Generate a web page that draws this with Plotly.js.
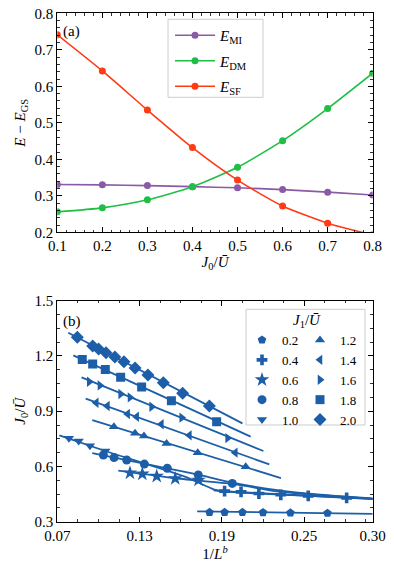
<!DOCTYPE html>
<html>
<head>
<meta charset="utf-8">
<script src="https://cdn.plot.ly/plotly-3.0.1.min.js"></script>
<style>
  body { margin: 0; background: #fff; }
  #plot { width: 394px; height: 573px; }
</style>
</head>
<body>
<div id="plot"></div>
<script>
// panel (a): energies vs J0/U
const xA = [0.1, 0.2, 0.3, 0.4, 0.5, 0.6, 0.7, 0.8];
const eMI = [0.331, 0.330, 0.328, 0.325, 0.322, 0.317, 0.310, 0.302];
const eDM = [0.256, 0.267, 0.289, 0.325, 0.378, 0.451, 0.539, 0.636];
const eSF = [0.741, 0.642, 0.535, 0.432, 0.343, 0.272, 0.225, 0.193];

// panel (b): critical J0/U vs 1/L^b, one set per J1/U
const j1Labels = ['0.2', '0.4', '0.6', '0.8', '1.0', '1.2', '1.4', '1.6', '1.8', '2.0'];
const j1Symbols = ['pentagon', 'cross', 'star', 'circle', 'triangle-down',
                   'triangle-up', 'triangle-left', 'triangle-right', 'square', 'diamond'];

const ptsX = [
  [0.181, 0.192, 0.205, 0.220, 0.240, 0.267],
  [0.192, 0.204, 0.217, 0.233, 0.253, 0.281],
  [0.123, 0.132, 0.1425, 0.156, 0.173],
  [0.1036, 0.1114, 0.1206, 0.1335, 0.1502, 0.1728, 0.1976],
  [0.0785, 0.0856, 0.0938, 0.105],
  [0.1113, 0.1267, 0.1332, 0.1497, 0.1724, 0.2074],
  [0.0984, 0.1065, 0.1213, 0.1279, 0.1459, 0.1663, 0.1998],
  [0.0933, 0.1011, 0.1162, 0.123, 0.1388, 0.1607, 0.1942],
  [0.0882, 0.0958, 0.105, 0.1162, 0.1315, 0.1532, 0.1862],
  [0.0846, 0.0958, 0.1001, 0.1055, 0.112, 0.1186, 0.1267, 0.1361, 0.1473, 0.1614, 0.1809]
];
const ptsY = [
  [0.351, 0.351, 0.351, 0.350, 0.348, 0.346],
  [0.466, 0.462, 0.453, 0.446, 0.440, 0.429],
  [0.565, 0.559, 0.547, 0.534, 0.526],
  [0.662, 0.648, 0.635, 0.613, 0.590, 0.554, 0.508],
  [0.753, 0.738, 0.713, 0.684],
  [0.816, 0.780, 0.765, 0.725, 0.675, 0.599],
  [0.946, 0.928, 0.885, 0.870, 0.829, 0.769, 0.675],
  [1.060, 1.040, 0.993, 0.975, 0.924, 0.865, 0.754],
  [1.181, 1.156, 1.127, 1.084, 1.031, 0.957, 0.843],
  [1.301, 1.254, 1.238, 1.218, 1.194, 1.169, 1.134, 1.096, 1.055, 0.997, 0.928]
];
// fitted curves
const fitX = [
  [0.172, 0.30],
  [0.184, 0.193, 0.233, 0.281, 0.30],
  [0.1145, 0.156, 0.1976, 0.232, 0.26, 0.30],
  [0.0955, 0.1502, 0.1728, 0.1976, 0.232, 0.26, 0.30],
  [0.0715, 0.105, 0.163, 0.184, 0.193, 0.232, 0.30],
  [0.0955, 0.2331],
  [0.0907, 0.2246],
  [0.0877, 0.2203],
  [0.0817, 0.211],
  [0.078, 0.205]
];
const fitY = [
  [0.356, 0.343],
  [0.470, 0.463, 0.447, 0.430, 0.424],
  [0.577, 0.536, 0.505, 0.463, 0.445, 0.424],
  [0.673, 0.590, 0.555, 0.512, 0.470, 0.448, 0.426],
  [0.769, 0.684, 0.545, 0.476, 0.466, 0.449, 0.424],
  [0.852, 0.537],
  [0.968, 0.611],
  [1.084, 0.684],
  [1.203, 0.762],
  [1.326, 0.834]
];

const purple = '#8a5aa6', green = '#1fbf45', red = '#ff3b14', blue = '#1c5fa8';
const FONT = 'Liberation Serif, Times New Roman, serif';

let data = [];
[[eMI, purple, 'MI'], [eDM, green, 'DM'], [eSF, red, 'SF']].forEach(function(s, i) {
  data.push({
    x: xA, y: s[0], xaxis: 'x', yaxis: 'y', type: 'scatter', mode: 'lines+markers',
    name: '<i>E</i><sub>' + s[2] + '</sub>',
    line: {color: s[1], width: 1.6, shape: 'spline', smoothing: 0.6},
    marker: {color: s[1], size: 7},
    legend: 'legend', legendgroup: 'a' + i
  });
});

for (let i = 0; i < j1Labels.length; i++) {
  data.push({
    x: fitX[i], y: fitY[i], xaxis: 'x2', yaxis: 'y2', type: 'scatter', mode: 'lines',
    line: {color: blue, width: 1.8, shape: 'spline', smoothing: 0.5},
    showlegend: false, hoverinfo: 'skip'
  });
}
for (let i = 0; i < j1Labels.length; i++) {
  let sym = j1Symbols[i];
  let sz = 9;
  if (sym == 'diamond') sz = 10;
  if (sym == 'star') sz = 11;
  data.push({
    x: ptsX[i], y: ptsY[i], xaxis: 'x2', yaxis: 'y2', type: 'scatter', mode: 'markers',
    name: j1Labels[i],
    marker: {color: blue, symbol: sym, size: sz},
    legend: i < 5 ? 'legend2' : 'legend3'
  });
}

function axisStyle(extra) {
  let base = {
    showline: true, linecolor: '#000', linewidth: 1, mirror: 'allticks',
    ticks: 'inside', ticklen: 5, tickwidth: 1, tickcolor: '#000',
    showgrid: false, zeroline: false,
    tickfont: {family: FONT, size: 15, color: '#000'}
  };
  return Object.assign(base, extra);
}
function minorTicks(t0, dt) {
  return {ticks: 'inside', ticklen: 2.5, tickwidth: 0.8, tickcolor: '#000', tick0: t0, dtick: dt};
}

const xDom = [57.3 / 394, 372.7 / 394];
const legendBase = {
  bgcolor: 'rgba(0,0,0,0)', borderwidth: 0,
  font: {family: FONT, size: 13, color: '#000'},
  xanchor: 'left', yanchor: 'top'
};

const layout = {
  width: 394, height: 573,
  margin: {l: 0, r: 0, t: 0, b: 0},
  paper_bgcolor: '#fff', plot_bgcolor: '#fff',
  font: {family: FONT, size: 15, color: '#000'},
  showlegend: true,
  xaxis: axisStyle({
    domain: xDom, anchor: 'y', range: [0.1, 0.8], dtick: 0.1, tickformat: '.1f',
    minor: minorTicks(0.1, 0.02),
    title: {text: '<i>J</i><sub>0</sub>/<i>Ū</i>', font: {family: FONT, size: 15}, standoff: 3}
  }),
  yaxis: axisStyle({
    domain: [1 - 232.3 / 573, 1 - 13.3 / 573], anchor: 'x', range: [0.2, 0.8], dtick: 0.1, tickformat: '.1f',
    minor: minorTicks(0.2, 0.02),
    title: {text: '<i>E</i> − <i>E</i><sub>GS</sub>', font: {family: FONT, size: 15}, standoff: 5}
  }),
  xaxis2: axisStyle({
    domain: xDom, anchor: 'y2', range: [0.07, 0.30],
    tickvals: [0.07, 0.13, 0.19, 0.25, 0.30], ticktext: ['0.07', '0.13', '0.19', '0.25', '0.30'],
    minor: minorTicks(0.07, 0.015),
    title: {text: '1/<i>L</i><sup><i>b</i></sup>', font: {family: FONT, size: 15}, standoff: 3}
  }),
  yaxis2: axisStyle({
    domain: [1 - 521.7 / 573, 1 - 300.7 / 573], anchor: 'x2', range: [0.3, 1.5],
    tickvals: [0.3, 0.6, 0.9, 1.2, 1.5], tickformat: '.1f',
    minor: minorTicks(0.3, 0.075),
    title: {text: '<i>J</i><sub>0</sub>/<i>Ū</i>', font: {family: FONT, size: 15}, standoff: 5}
  }),
  legend: Object.assign({}, legendBase, {
    x: 170 / 394, y: 1 - 19 / 573, itemwidth: 40, tracegroupgap: 3,
    font: {family: FONT, size: 15, color: '#000'}
  }),
  legend2: Object.assign({}, legendBase, {x: 242 / 394, y: 1 - 325 / 573, tracegroupgap: 0}),
  legend3: Object.assign({}, legendBase, {x: 300 / 394, y: 1 - 325 / 573, tracegroupgap: 0}),
  shapes: [
    {type: 'rect', xref: 'paper', yref: 'paper', x0: 168 / 394, x1: 263 / 394,
     y0: 1 - 97.3 / 573, y1: 1 - 19.3 / 573, line: {color: '#cccccc', width: 1}},
    {type: 'rect', xref: 'paper', yref: 'paper', x0: 246 / 394, x1: 365 / 394,
     y0: 1 - 425 / 573, y1: 1 - 309.3 / 573, line: {color: '#cccccc', width: 1}}
  ],
  annotations: [
    {text: '(a)', xref: 'paper', yref: 'paper', x: 61 / 394, y: 1 - 21 / 573,
     xanchor: 'left', yanchor: 'top', showarrow: false, font: {family: FONT, size: 15}},
    {text: '(b)', xref: 'paper', yref: 'paper', x: 61 / 394, y: 1 - 311 / 573,
     xanchor: 'left', yanchor: 'top', showarrow: false, font: {family: FONT, size: 15}},
    {text: '<i>J</i><sub>1</sub>/<i>Ū</i>', xref: 'paper', yref: 'paper', x: 307 / 394, y: 1 - 321 / 573,
     xanchor: 'center', yanchor: 'middle', showarrow: false, font: {family: FONT, size: 15}}
  ]
};

Plotly.newPlot('plot', data, layout, {displayModeBar: false, staticPlot: true});
</script>
</body>
</html>
